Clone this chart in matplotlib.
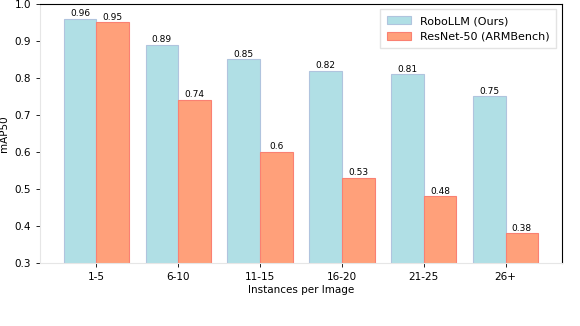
import matplotlib.pyplot as plt
import numpy as np

# data
groups = ['1-5', '6-10', '11-15', '16-20', '21-25', '26+']
robollm = [0.96, 0.89, 0.85, 0.82, 0.81, 0.75]
resnet = [0.95, 0.74, 0.6, 0.53, 0.48, 0.38]

fig = plt.figure(figsize=(5.8, 3.26), dpi=100)
ax = fig.add_axes([0.069, 0.193, 0.9, 0.795])

x = np.arange(len(groups))
w = 0.4
b1 = ax.bar(x - w / 2, robollm, w, color='#B0DFE5', edgecolor='#B0C4DE',
            linewidth=0.8, label='RoboLLM (Ours)')
b2 = ax.bar(x + w / 2, resnet, w, color='#FFA07A', edgecolor='#FA8072',
            linewidth=0.8, label='ResNet-50 (ARMBench)')
ax.bar_label(b1, fontsize=6.5, padding=0.5)
ax.bar_label(b2, fontsize=6.5, padding=0.5)

ax.set_ylim(0.3, 1.0)
ax.set_xticks(x)
ax.set_xticklabels(groups)
ax.tick_params(labelsize=7.5, length=3, width=0.6)
ax.set_ylabel('mAP50', fontsize=7.5)
ax.set_xlabel('Instances per Image', fontsize=7.5, labelpad=2)

for s in ['left', 'bottom']:
    ax.spines[s].set_color('#e6e6e6')
for s in ['top', 'right']:
    ax.spines[s].set_color('black')

ax.legend(loc='upper right', fontsize=8, frameon=True, fancybox=False,
          edgecolor='#dddddd', handlelength=2.2, borderpad=0.6)

fig.savefig('out.png', dpi=100)
